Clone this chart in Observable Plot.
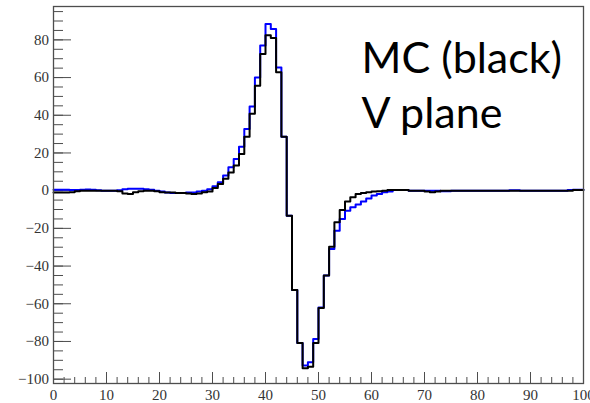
<!DOCTYPE html>
<html><head><meta charset="utf-8">
<script src="https://cdn.jsdelivr.net/npm/d3@7"></script>
<script src="https://cdn.jsdelivr.net/npm/@observablehq/plot@0.6"></script>
<style>
body{margin:0;background:#fff}
#chart svg text.ticklab { font-family: "Liberation Serif", "Times New Roman", "DejaVu Serif", serif !important; font-size: 15px !important; }
#chart svg text.anno { font-family: Lato, "Open Sans", sans-serif !important; font-size: 43px !important; }
</style>
</head><body><div id="chart"></div>
<script>
// bin low edges (width 1) from 0 to 99
const binLow = d3.range(0, 100);
// blue histogram
const blueValues = [
  0.5, 0.5, 0.5, 0.3, 0.3, 0.5, 0.6, 0.5, 0.2, 0,
  0, 0, 0.2, 0.8, 1.0, 1.0, 1.0, 0.8, 0.5, 0,
  -0.5, -1.0, -1.2, -1.2, -1.2, -1.0, -1.0, -0.5, 0.0, 0.8,
  2.3, 4.4, 8.0, 12.4, 16.8, 23.3, 32.7, 44.7, 60.0, 77.0,
  88.4, 85.8, 65.4, 28.6, -13.3, -52.7, -80.8, -92.8, -91.0, -78.7,
  -62.0, -45.0, -31.0, -21.2, -15.0, -10.6, -8.8, -7.4, -5.7, -4.1,
  -2.6, -1.8, -0.9, -0.5, 0.3, 0.3, 0.3, 0, 0, 0,
  0, 0, 0, -0.3, -0.3, 0, 0, 0, 0, 0,
  0, 0, 0, 0, 0, 0, 0.2, 0.2, 0, 0,
  0, 0, 0, 0, 0, 0, 0, 0.3, 0.5, 0.5
];
// black histogram (MC)
const blackValues = [
  -1.0, -1.0, -1.0, -0.8, -0.3, 0, 0, 0, 0, 0,
  0, 0, -0.3, -1.5, -1.8, -0.8, -0.3, 0, 0, -0.3,
  -0.8, -1.0, -1.0, -1.2, -1.2, -1.5, -1.8, -1.5, -0.8, -0.4,
  1.4, 3.5, 6.3, 9.7, 13.3, 19.5, 28.6, 40.8, 55.7, 72.5,
  82.5, 81.0, 62.8, 28.6, -13.3, -52.7, -80.8, -94.2, -93.4, -80.8,
  -62.3, -45.0, -29.7, -16.8, -10.3, -5.7, -3.5, -1.8, -1.2, -0.9,
  -0.5, -0.3, 0, 0.3, 0.3, 0.3, 0.3, 0, 0, 0,
  -0.5, -0.8, -0.5, 0, 0, 0, 0, 0, 0, 0,
  0, 0, 0, 0, 0, 0, 0, 0, 0, 0,
  0, 0, 0, 0, 0, 0, 0, 0, 0.3, 0.3
];
const xMajor = [0, 10, 20, 30, 40, 50, 60, 70, 80, 90, 100];
const xMinor = d3.range(0, 101, 2);
const yMajor = [-100, -80, -60, -40, -20, 0, 20, 40, 60, 80];
const yMinor = d3.range(-100, 96, 5);
const annotation = ["MC (black)", "V plane"];

const W = 590, H = 403;
const mL = 53, mR = 7, mT = 6, mB = 20;
const innerW = W - mL - mR, innerH = H - mT - mB;
const axisColor = "#4d4d4d";
const serif = "Liberation Serif, Times New Roman, DejaVu Serif, serif";

function steps(values) {
  const pts = binLow.map((x, i) => ({x, y: values[i]}));
  pts.push({x: binLow[binLow.length - 1] + 1, y: values[values.length - 1]});
  return pts;
}

const chart = Plot.plot({
  width: W, height: H,
  marginLeft: mL, marginRight: mR, marginTop: mT, marginBottom: mB,
  style: "background: #fff; font-family: 'Liberation Serif', serif; font-size: 15px;",
  x: {domain: [0, 100], label: null, ticks: xMajor, tickSize: 0, tickPadding: 6, tickFormat: d => d},
  y: {domain: [-102.3, 97.7], label: null, ticks: yMajor, tickSize: 0, tickPadding: 4.5},
  marks: [
    Plot.tickY(yMinor, {y: d => d, insetRight: innerW - 10, stroke: axisColor, strokeWidth: 1}),
    Plot.tickY(yMajor, {y: d => d, insetRight: innerW - 18, stroke: axisColor, strokeWidth: 1}),
    Plot.tickX(xMinor, {x: d => d, insetTop: innerH - 6, stroke: axisColor, strokeWidth: 1}),
    Plot.tickX(xMajor, {x: d => d, insetTop: innerH - 11, stroke: axisColor, strokeWidth: 1}),
    Plot.line(steps(blueValues), {x: "x", y: "y", curve: "step-after", stroke: "#0000ff", strokeWidth: 2}),
    Plot.line(steps(blackValues), {x: "x", y: "y", curve: "step-after", stroke: "#000", strokeWidth: 2}),
    Plot.frame({stroke: axisColor, strokeWidth: 1.3}),
    Plot.text([annotation[0]], {text: d => d, frameAnchor: "top-left", textAnchor: "start", lineAnchor: "bottom", dx: 308, dy: 66, fill: "#000", fontFamily: "Lato", fontSize: 43}),
    Plot.text([annotation[1]], {text: d => d, frameAnchor: "top-left", textAnchor: "start", lineAnchor: "bottom", dx: 308, dy: 121, fill: "#000", fontFamily: "Lato", fontSize: 43})
  ]
});
document.getElementById("chart").appendChild(chart);
// tag texts so the stylesheet can set their faces
chart.querySelectorAll("text").forEach(t => {
  if (annotation.includes(t.textContent)) t.classList.add("anno");
  else { t.classList.add("ticklab"); t.setAttribute("fill", "#333"); }
});
</script>
</body></html>
